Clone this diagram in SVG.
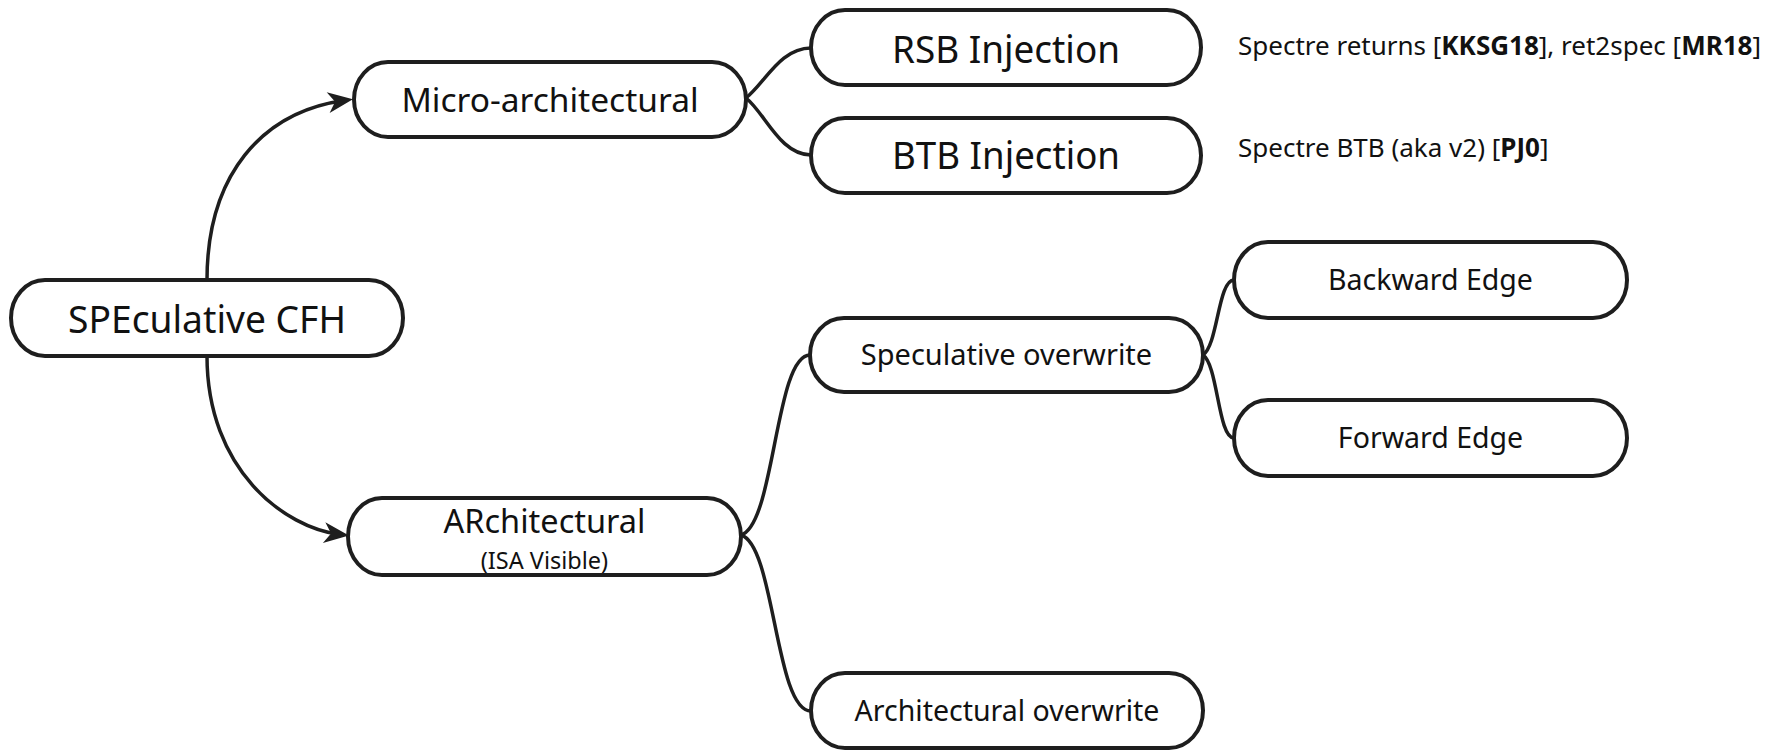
<svg xmlns="http://www.w3.org/2000/svg" width="1772" height="751" viewBox="0 0 1772 751">
  <style>
    .box { fill: #ffffff; stroke: #1e1e1e; stroke-width: 4; }
    .lbl { font-family: "Noto Sans", "Open Sans", sans-serif; fill: #111111; text-anchor: middle; }
    .note { font-family: "Noto Sans", "Open Sans", sans-serif; fill: #111111; font-size: 26px; }
    .b { font-weight: 700; }
    .edge { fill: none; stroke: #1e1e1e; stroke-width: 3.5; }
  </style>
  <defs>
    <marker id="arrow" markerUnits="userSpaceOnUse" markerWidth="30" markerHeight="24" viewBox="-18 -12 30 24" refX="0" refY="0" orient="auto" overflow="visible">
      <path d="M 9 0 L -16 -10.5 L -9 0 L -16 10.5 Z" fill="#1e1e1e"/>
    </marker>
  </defs>
  <rect width="1772" height="751" fill="#ffffff"/>

  <g id="connectors">
    <path class="edge" d="M 207 280 C 207 175, 262 112, 344 100.5" marker-end="url(#arrow)"/>
    <path class="edge" d="M 207 356 C 207 470, 285 528, 340 534.5" marker-end="url(#arrow)"/>
    <path class="edge" d="M 746 98 C 765 83, 780 48, 811 48"/>
    <path class="edge" d="M 746 98 C 765 113, 780 155, 811 155"/>
    <path class="edge" d="M 741 535 C 775 525, 775 355, 810 355"/>
    <path class="edge" d="M 741 535 C 775 545, 775 711, 811 711"/>
    <path class="edge" d="M 1203 355 C 1218 345, 1218 280, 1234 280"/>
    <path class="edge" d="M 1203 355 C 1218 365, 1218 438, 1234 438"/>
  </g>

  <g id="node-speculative-cfh">
    <rect class="box" x="11" y="280" width="392" height="76" rx="34" ry="38"/>
    <text class="lbl" x="207" y="333" font-size="39" textLength="278" lengthAdjust="spacingAndGlyphs">SPEculative CFH</text>
  </g>
  <g id="node-micro-architectural">
    <rect class="box" x="354" y="62" width="392" height="75" rx="34" ry="37.5"/>
    <text class="lbl" x="550" y="112" font-size="33.5">Micro-architectural</text>
  </g>
  <g id="node-rsb-injection">
    <rect class="box" x="811" y="10" width="390" height="75" rx="34" ry="37.5"/>
    <text class="lbl" x="1006" y="63" font-size="38.5" textLength="228" lengthAdjust="spacingAndGlyphs">RSB Injection</text>
  </g>
  <g id="node-btb-injection">
    <rect class="box" x="811" y="118" width="390" height="75" rx="34" ry="37.5"/>
    <text class="lbl" x="1006" y="169" font-size="38.5" textLength="228" lengthAdjust="spacingAndGlyphs">BTB Injection</text>
  </g>
  <g id="note-rsb">
    <text class="note" x="1238" y="55">Spectre returns [<tspan class="b">KKSG18</tspan>], ret2spec [<tspan class="b">MR18</tspan>]</text>
  </g>
  <g id="note-btb">
    <text class="note" x="1238" y="157">Spectre BTB (aka v2) [<tspan class="b">PJ0</tspan>]</text>
  </g>
  <g id="node-architectural">
    <rect class="box" x="348" y="498" width="393" height="77" rx="34" ry="38.5"/>
    <text class="lbl" x="544.5" y="533" font-size="32.5">ARchitectural</text>
    <text class="lbl" x="544.5" y="569" font-size="23.5">(ISA Visible)</text>
  </g>
  <g id="node-speculative-overwrite">
    <rect class="box" x="810" y="318" width="393" height="74" rx="34" ry="37"/>
    <text class="lbl" x="1006.5" y="365" font-size="29">Speculative overwrite</text>
  </g>
  <g id="node-backward-edge">
    <rect class="box" x="1234" y="242" width="393" height="76" rx="34" ry="38"/>
    <text class="lbl" x="1430.5" y="290" font-size="28.5">Backward Edge</text>
  </g>
  <g id="node-forward-edge">
    <rect class="box" x="1234" y="400" width="393" height="76" rx="34" ry="38"/>
    <text class="lbl" x="1430.5" y="448" font-size="28.5">Forward Edge</text>
  </g>
  <g id="node-architectural-overwrite">
    <rect class="box" x="811" y="673" width="392" height="75" rx="34" ry="37.5"/>
    <text class="lbl" x="1007" y="721" font-size="28.5">Architectural overwrite</text>
  </g>
</svg>
